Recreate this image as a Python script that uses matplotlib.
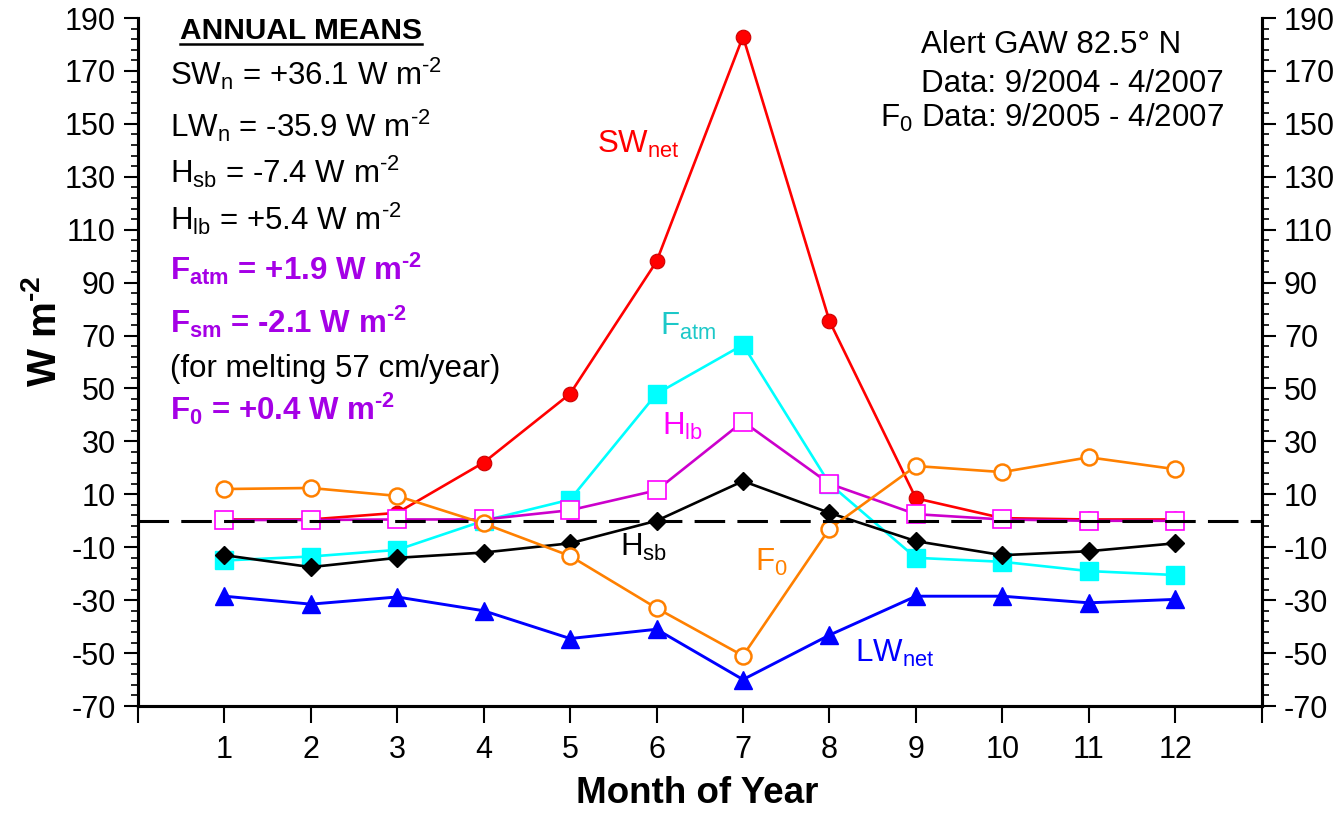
import numpy as np
import matplotlib
matplotlib.use("Agg")
import matplotlib.pyplot as plt
from matplotlib.ticker import FixedLocator
from matplotlib.lines import Line2D

plt.rcParams['font.family'] = ['Liberation Sans', 'DejaVu Sans']
plt.rcParams['mathtext.default'] = 'regular'
plt.rcParams['axes.unicode_minus'] = False

# monthly means, W m-2
months = np.arange(1, 13)
sw_net = [0.5, 0.5, 3, 22, 48, 98, 183, 75.5, 8.5, 1, 0.5, 0.5]
f_atm = [-15, -13.5, -11, 0, 8, 48, 66.5, 14, -14, -15.5, -19, -20.5]
h_lb = [0.3, 0.3, 0.5, 0.5, 4, 11.5, 37.5, 14, 2.5, 0.5, 0, 0]
h_sb = [-13, -17.5, -14, -12, -8.5, 0, 15, 3, -7.7, -13, -11.5, -8.5]
lw_net = [-28.5, -31.5, -28.8, -34, -44.5, -41, -60, -43.2, -28.5, -28.5, -31, -29.7]
f_0 = [12, 12.4, 9.4, -1, -13.3, -33, -51, -3, 20.7, 18.4, 24, 19.5]

HY = u'\u2010'  # plain hyphen inside mathtext superscripts
unit = r' W m$^{' + HY + '2}$'
annual_lines = [
    (r'SW$_{n}$ = +36.1' + unit, 'black', 'normal', 164.7),
    (r'LW$_{n}$ = -35.9' + unit, 'black', 'normal', 145.1),
    (r'H$_{sb}$ = -7.4' + unit, 'black', 'normal', 127.7),
    (r'H$_{lb}$ = +5.4' + unit, 'black', 'normal', 110.0),
    (r'F$_{atm}$ = +1.9' + unit, '#a500e6', 'bold', 91.1),
    (r'F$_{sm}$ = -2.1' + unit, '#a500e6', 'bold', 71.1),
    ('(for melting 57 cm/year)', 'black', 'normal', 54.5),
    (r'F$_{0}$ = +0.4' + unit, '#a500e6', 'bold', 38.3),
]

fs = 22.5

fig = plt.figure(figsize=(13.38, 8.13), dpi=100)
ax = fig.add_axes([0.103, 0.1316, 0.840, 0.8462])

ax.axhline(0, color='black', lw=2.2, dashes=(10, 4), zorder=5)

ax.plot(months, sw_net, '-o', color='red', lw=1.9, ms=10.5, mec='#cc0000', mew=0.8, zorder=3)
ax.plot(months, f_atm, '-s', color='cyan', lw=1.9, ms=13, mec='cyan', zorder=3)
ax.plot(months, h_lb, '-s', color='#cc00cc', lw=1.9, ms=13, mfc='white', mec='#ff00ff', mew=1.2, zorder=3)
ax.plot(months, h_sb, '-D', color='black', lw=1.9, ms=9.5, zorder=3)
ax.plot(months, lw_net, '-^', color='blue', lw=2.1, ms=13, zorder=3)
ax.plot(months, f_0, '-o', color='#ff8000', lw=1.9, ms=11.5, mfc='white', mew=1.8, zorder=4)

ax.set_xlim(0, 13)
ax.set_ylim(-70, 190)
ax.set_xticks(np.arange(0, 14))
ax.set_xticklabels([''] + [str(m) for m in months] + [''])

ax2 = ax.twinx()
ax2.set_ylim(-70, 190)
for a in (ax, ax2):
    a.yaxis.set_major_locator(FixedLocator(np.arange(-70, 191, 20)))
    a.yaxis.set_minor_locator(FixedLocator(np.arange(-70, 191, 4)))
    a.tick_params(axis='y', which='major', length=10, width=1.5, labelsize=22, pad=6)
    a.tick_params(axis='y', which='minor', length=5, width=1.2)
    a.spines['top'].set_visible(False)
    for s in ('left', 'right', 'bottom'):
        a.spines[s].set_linewidth(2.2)
ax.tick_params(axis='x', length=12, width=1.5, labelsize=22, pad=9)

ax.set_xlabel('Month of Year', fontsize=26.5, fontweight='bold')
ax.xaxis.set_label_coords(0.498, -0.102)
ax.set_ylabel(r'W m$^{' + HY + '2}$', fontsize=29, fontweight='bold')
ax.yaxis.set_label_coords(-0.066, 0.545)

# annual means block
title = ax.text(0.49, 182.0, 'ANNUAL MEANS', fontsize=21.5, fontweight='bold', va='baseline')
for txt, col, wt, yb in annual_lines:
    ax.text(0.37, yb, txt, fontsize=fs, color=col, fontweight=wt, va='baseline')

# station info
ax.text(9.06, 176.8, u'Alert GAW 82.5\u00b0 N', fontsize=fs, va='baseline')
ax.text(12.56, 162.0, 'Data: 9/2004 - 4/2007', fontsize=fs, va='baseline', ha='right')
ax.text(12.56, 148.9, r'F$_{0}$ Data: 9/2005 - 4/2007', fontsize=fs, va='baseline', ha='right')

# series labels
ax.text(5.31, 139.0, r'SW$_{net}$', fontsize=fs, color='red', va='baseline')
ax.text(6.04, 70.4, r'F$_{atm}$', fontsize=fs, color='#1cc8c8', va='baseline')
ax.text(6.06, 32.6, r'H$_{lb}$', fontsize=fs, color='#ff00ff', va='baseline')
ax.text(5.58, -13.4, r'H$_{sb}$', fontsize=fs, color='black', va='baseline')
ax.text(7.14, -19.0, r'F$_{0}$', fontsize=fs, color='#ff8000', va='baseline')
ax.text(8.30, -53.4, r'LW$_{net}$', fontsize=fs, color='blue', va='baseline')

# underline the block title
fig.canvas.draw()
bb = title.get_window_extent().transformed(fig.transFigure.inverted())
fig.add_artist(Line2D([bb.x0, bb.x1], [bb.y0 + 0.002, bb.y0 + 0.002],
                      transform=fig.transFigure, color='black', lw=1.8))

fig.savefig('out.png', dpi=100)
